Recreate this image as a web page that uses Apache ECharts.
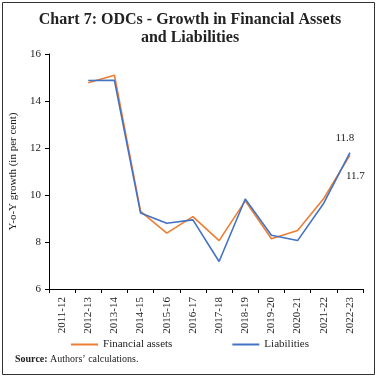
<!DOCTYPE html>
<html><head><meta charset="utf-8">
<script src="https://cdn.jsdelivr.net/npm/echarts@6/dist/echarts.min.js"></script>
<style>html,body{margin:0;padding:0;background:#fff}#c{width:380px;height:380px}</style>
</head><body><div id="c"></div>
<script>
var categories = ['2011-12','2012-13','2013-14','2014-15','2015-16','2016-17','2017-18','2018-19','2019-20','2020-21','2021-22','2022-23'];
var financialAssets = [null,14.78,15.1,9.3,8.38,9.08,8.06,9.75,8.14,8.49,9.85,11.7];
var liabilities = [null,14.87,14.88,9.23,8.8,8.94,7.17,9.83,8.29,8.06,9.65,11.8];
var yTicks = [6,8,10,12,14,16];
var serif = '"Liberation Serif","DejaVu Serif",serif';

function lastLabel(arr, cfg){
  return arr.map(function(v,i){
    if(i===arr.length-1){return {value:v,label:Object.assign({show:true,fontFamily:serif,fontSize:11,color:'#222',formatter:function(p){return p.value.toFixed(1);}},cfg)};}
    return v;
  });
}

var chart = echarts.init(document.getElementById('c'));
chart.setOption({
  animation:false,
  title:{text:'Chart 7: ODCs - Growth in Financial Assets\nand Liabilities',left:'center',top:6,
    textStyle:{fontFamily:serif,fontSize:16,fontWeight:'bold',color:'#222',lineHeight:18}},
  grid:{left:49,right:17,top:54,bottom:91},
  legend:{bottom:25,left:'center',itemWidth:27,itemHeight:2,itemGap:60,icon:'rect',
    textStyle:{fontFamily:serif,fontSize:11,color:'#222'},
    data:['Financial assets','Liabilities']},
  xAxis:{type:'category',data:categories,boundaryGap:true,
    axisLine:{lineStyle:{color:'#000',width:1}},
    axisTick:{show:true,length:4,lineStyle:{color:'#000'}},
    axisLabel:{rotate:90,fontFamily:serif,fontSize:11,color:'#222',margin:8}},
  yAxis:{type:'value',min:yTicks[0],max:yTicks[yTicks.length-1],interval:2,
    name:'Y-o-Y growth (in per cent)',nameLocation:'middle',nameGap:23,
    nameTextStyle:{fontFamily:serif,fontSize:11,color:'#222'},
    axisLine:{show:true,lineStyle:{color:'#000',width:1}},
    axisTick:{show:true,length:4,lineStyle:{color:'#000'}},
    splitLine:{show:false},
    axisLabel:{fontFamily:serif,fontSize:11,color:'#222',margin:8}},
  series:[
    {name:'Financial assets',type:'line',data:lastLabel(financialAssets,{position:'right',offset:[-9,21]}),
      color:'#ED7D31',showSymbol:true,symbol:'circle',symbolSize:0.01,lineStyle:{width:1.6,color:'#ED7D31'}},
    {name:'Liabilities',type:'line',data:lastLabel(liabilities,{position:'top',offset:[-5,-4]}),
      color:'#4472C4',showSymbol:true,symbol:'circle',symbolSize:0.01,lineStyle:{width:1.6,color:'#4472C4'}}
  ],
  graphic:[
    {type:'rect',shape:{x:2.5,y:2.5,width:372,height:372},style:{fill:'none',stroke:'#333',lineWidth:1}},
    {type:'text',left:15,top:354,style:{text:'{b|Source:} Authors\u2019 calculations.',
      rich:{b:{fontWeight:'bold',fontFamily:serif,fontSize:10,fill:'#222'}},
      fontFamily:serif,fontSize:10,fill:'#222'}}
  ]
});
</script></body></html>
